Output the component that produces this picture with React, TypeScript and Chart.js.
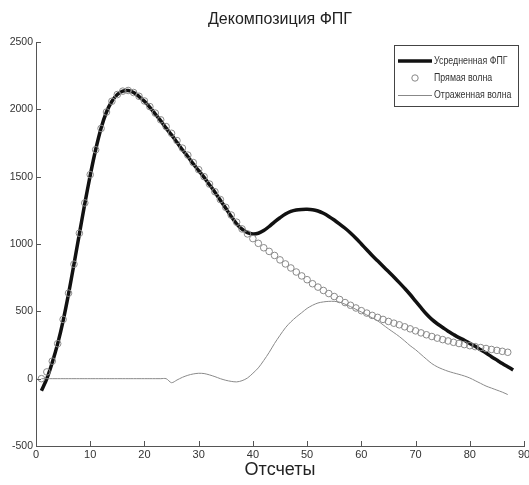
import React, { useEffect, useRef } from "react";
import { Chart, registerables } from "chart.js";

Chart.register(...registerables);

const titleText = "Декомпозиция ФПГ";
const xAxisTitle = "Отсчеты";
const seriesNames = ["Усредненная ФПГ", "Прямая волна", "Отраженная волна"];

const xTicks = [0, 10, 20, 30, 40, 50, 60, 70, 80, 90];
const yTicks = [-500, 0, 500, 1000, 1500, 2000, 2500];

const averaged = [
  -90, 0, 120, 260, 430, 630, 850, 1075, 1300, 1510,
  1700, 1860, 1980, 2060, 2110, 2135, 2140, 2125, 2095, 2060,
  2015, 1965, 1915, 1860, 1810, 1755, 1700, 1650, 1595, 1545,
  1495, 1440, 1385, 1325, 1265, 1205, 1150, 1110, 1085, 1075,
  1080, 1100, 1130, 1165, 1195, 1222, 1242, 1253, 1257, 1258,
  1255, 1245, 1228, 1205, 1178, 1148, 1117, 1082, 1043, 1000,
  957, 915, 875, 835, 795, 755, 713, 670, 625, 575,
  527, 480, 440, 408, 380, 352, 328, 305, 285, 262,
  240, 215, 190, 163, 138, 113, 89, 65,
];

const direct = [
  0, 50, 130, 260, 440, 635, 850, 1080, 1305, 1515,
  1700, 1858, 1980, 2060, 2110, 2135, 2140, 2125, 2097, 2062,
  2020, 1972, 1922, 1872, 1822, 1768, 1712, 1660, 1605, 1552,
  1500, 1445, 1388, 1330, 1272, 1215, 1162, 1112, 1075, 1040,
  1005, 972, 945, 915, 882, 852, 822, 792, 763, 735,
  705, 680, 655, 632, 610, 588, 565, 545, 525, 505,
  487, 470, 455, 440, 425, 412, 400, 385, 370, 355,
  340, 326, 313, 301, 290, 280, 270, 261, 253, 245,
  238, 231, 224, 217, 210, 203, 196,
];

const reflected = [
  0, 0, 0, 0, 0, 0, 0, 0, 0, 0,
  0, 0, 0, 0, 0, 0, 0, 0, 0, 0,
  0, 0, 0, 0, -30, -10, 10, 25, 35, 40,
  38, 28, 15, 0, -12, -20, -24, -15, 5, 40,
  80, 135, 195, 262, 322, 378, 422, 458, 490, 522,
  545, 562, 570, 574, 574, 568, 553, 535, 515, 495,
  473, 452, 430, 400, 370, 342, 313, 280, 245, 215,
  180, 145, 112, 88, 70, 55, 43, 32, 20, 5,
  -15, -35, -55, -70, -85, -100, -118,
];

const toPoints = (arr: number[]) => arr.map((v, i) => ({ x: i + 1, y: v }));

const FONT = "'Liberation Sans', Arial, sans-serif";

const inwardTicks = {
  id: "inwardTicks",
  afterDraw(chart: any) {
    const { ctx } = chart;
    const xs = chart.scales.x;
    const ys = chart.scales.y;
    ctx.save();
    ctx.strokeStyle = "#555";
    ctx.lineWidth = 1;
    ctx.beginPath();
    xTicks.forEach((v) => {
      const px = Math.round(xs.getPixelForValue(v)) + 0.5;
      ctx.moveTo(px, ys.bottom);
      ctx.lineTo(px, ys.bottom - 5);
    });
    yTicks.forEach((v) => {
      const py = Math.round(ys.getPixelForValue(v)) + 0.5;
      ctx.moveTo(xs.left, py);
      ctx.lineTo(xs.left + 5, py);
    });
    ctx.stroke();
    ctx.restore();
  },
};

const boxLegend = {
  id: "boxLegend",
  afterDraw(chart: any) {
    const { ctx } = chart;
    const x0 = 394, y0 = 45, w = 124, h = 61;
    ctx.save();
    ctx.fillStyle = "#fff";
    ctx.fillRect(x0, y0, w, h);
    ctx.strokeStyle = "#444";
    ctx.lineWidth = 1;
    ctx.strokeRect(x0 + 0.5, y0 + 0.5, w, h);
    const rows = [61, 78, 95];
    ctx.font = "10px " + FONT;
    ctx.textBaseline = "middle";
    ctx.textAlign = "left";
    chart.data.datasets.forEach((ds: any, i: number) => {
      const ry = rows[i];
      if (i === 0) {
        ctx.strokeStyle = "#111";
        ctx.lineWidth = 3.5;
        ctx.beginPath();
        ctx.moveTo(398, ry);
        ctx.lineTo(432, ry);
        ctx.stroke();
      } else if (i === 1) {
        ctx.strokeStyle = "#888";
        ctx.lineWidth = 1;
        ctx.beginPath();
        ctx.arc(415, ry, 3.2, 0, Math.PI * 2);
        ctx.stroke();
      } else {
        ctx.strokeStyle = "#888";
        ctx.lineWidth = 1;
        ctx.beginPath();
        ctx.moveTo(398, ry + 0.5);
        ctx.lineTo(432, ry + 0.5);
        ctx.stroke();
      }
      ctx.save();
      ctx.translate(434, ry);
      ctx.scale(0.88, 1);
      ctx.fillStyle = "#333";
      ctx.fillText(ds.label, 0, 0);
      ctx.restore();
    });
    ctx.restore();
  },
};

export default function App() {
  const ref = useRef<HTMLCanvasElement | null>(null);

  useEffect(() => {
    if (!ref.current) return;
    const chart = new Chart(ref.current, {
      type: "line",
      data: {
        datasets: [
          {
            label: seriesNames[0],
            data: toPoints(averaged),
            borderColor: "#111",
            borderWidth: 3.5,
            pointRadius: 0,
            tension: 0.3,
            fill: false,
            order: 3,
          },
          {
            label: seriesNames[1],
            data: toPoints(direct),
            showLine: false,
            pointRadius: 3.3,
            pointBorderWidth: 1,
            pointBorderColor: "#8a8a8a",
            pointBackgroundColor: "rgba(255,255,255,0)",
            borderColor: "#8a8a8a",
            order: 1,
          },
          {
            label: seriesNames[2],
            data: toPoints(reflected),
            borderColor: "#8a8a8a",
            borderWidth: 1,
            pointRadius: 0,
            tension: 0.3,
            fill: false,
            order: 2,
          },
        ],
      },
      options: {
        responsive: false,
        animation: false,
        layout: { padding: { left: 0, right: 0, top: 0, bottom: 0 } },
        plugins: {
          legend: { display: false },
          tooltip: { enabled: false },
          title: {
            display: true,
            fullSize: false,
            text: titleText,
            color: "#222",
            font: { family: FONT, size: 16, weight: "normal", lineHeight: 1.2 },
            padding: { top: 10, bottom: 12.8 },
          },
        },
        scales: {
          x: {
            type: "linear",
            min: 0,
            max: 90,
            grid: { display: false, drawTicks: false, tickLength: 0 },
            border: { display: true, color: "#555", width: 1 },
            ticks: {
              stepSize: 10,
              color: "#333",
              padding: 2,
              maxRotation: 0,
              font: { family: FONT, size: 11 },
            },
            title: {
              display: true,
              text: xAxisTitle,
              color: "#222",
              font: { family: FONT, size: 18, lineHeight: 1.2 },
              padding: { top: 0, bottom: 4 },
            },
            afterFit(scale: any) {
              scale.height = 39;
              scale.paddingRight = 5;
            },
          },
          y: {
            min: -500,
            max: 2500,
            grid: { display: false, drawTicks: false, tickLength: 0 },
            border: { display: true, color: "#555", width: 1 },
            ticks: {
              stepSize: 500,
              color: "#333",
              padding: 3,
              font: { family: FONT, size: 10.5 },
              callback: (v: any) => String(v),
            },
            afterFit(scale: any) {
              scale.width = 36;
            },
          },
        },
      },
      plugins: [inwardTicks, boxLegend],
    });
    return () => chart.destroy();
  }, []);

  return (
    <div style={{ position: "fixed", left: 0, top: 0, width: 529, height: 485, background: "#fff" }}>
      <canvas ref={ref} width={529} height={485} />
    </div>
  );
}
